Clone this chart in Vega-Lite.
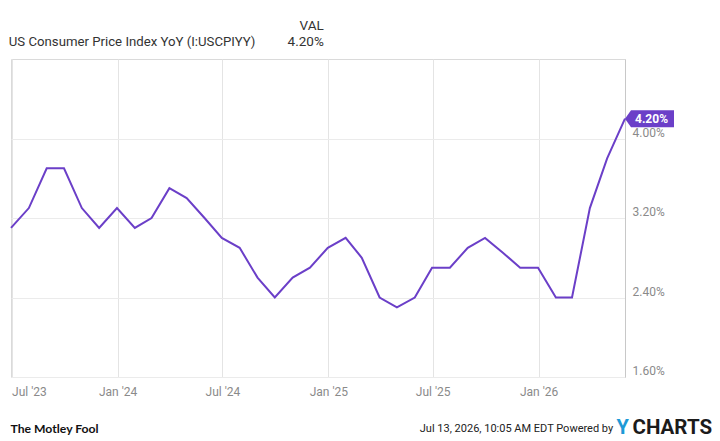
{
  "$schema": "https://vega.github.io/schema/vega-lite/v6.json",
  "width": 614,
  "height": 318,
  "autosize": {"type": "none"},
  "padding": {"left": 11, "top": 59, "right": 95, "bottom": 64},
  "background": "white",
  "config": {"font": "Roboto", "view": {"stroke": "#dadada", "strokeWidth": 1}},
  "data": {"values": [
    {"date": "2023-06-30", "value": 3.1},
    {"date": "2023-07-31", "value": 3.3},
    {"date": "2023-08-31", "value": 3.7},
    {"date": "2023-09-30", "value": 3.7},
    {"date": "2023-10-31", "value": 3.3},
    {"date": "2023-11-30", "value": 3.1},
    {"date": "2023-12-31", "value": 3.3},
    {"date": "2024-01-31", "value": 3.1},
    {"date": "2024-02-29", "value": 3.2},
    {"date": "2024-03-31", "value": 3.5},
    {"date": "2024-04-30", "value": 3.4},
    {"date": "2024-05-31", "value": 3.2},
    {"date": "2024-06-30", "value": 3.0},
    {"date": "2024-07-31", "value": 2.9},
    {"date": "2024-08-31", "value": 2.6},
    {"date": "2024-09-30", "value": 2.4},
    {"date": "2024-10-31", "value": 2.6},
    {"date": "2024-11-30", "value": 2.7},
    {"date": "2024-12-31", "value": 2.9},
    {"date": "2025-01-31", "value": 3.0},
    {"date": "2025-02-28", "value": 2.8},
    {"date": "2025-03-31", "value": 2.4},
    {"date": "2025-04-30", "value": 2.3},
    {"date": "2025-05-31", "value": 2.4},
    {"date": "2025-06-30", "value": 2.7},
    {"date": "2025-07-31", "value": 2.7},
    {"date": "2025-08-31", "value": 2.9},
    {"date": "2025-09-30", "value": 3.0},
    {"date": "2025-10-31", "value": 2.85},
    {"date": "2025-11-30", "value": 2.7},
    {"date": "2025-12-31", "value": 2.7},
    {"date": "2026-01-31", "value": 2.4},
    {"date": "2026-02-28", "value": 2.4},
    {"date": "2026-03-31", "value": 3.3},
    {"date": "2026-04-30", "value": 3.8},
    {"date": "2026-05-31", "value": 4.2}
  ]},
  "layer": [
    {
      "mark": {"type": "line", "color": "#6b3fc8", "strokeWidth": 2},
      "encoding": {
        "x": {
          "field": "date", "type": "temporal", "scale": {"type": "utc"},
          "axis": {
            "orient": "bottom",
            "values": [
              {"year": 2023, "month": 7, "date": 1, "utc": true},
              {"year": 2024, "month": 1, "date": 1, "utc": true},
              {"year": 2024, "month": 7, "date": 1, "utc": true},
              {"year": 2025, "month": 1, "date": 1, "utc": true},
              {"year": 2025, "month": 7, "date": 1, "utc": true},
              {"year": 2026, "month": 1, "date": 1, "utc": true}
            ],
            "labelExpr": "utcFormat(datum.value, \"%b '%y\")",
            "labelFlush": 5,
            "labelColor": "#8a8a8a",
            "labelFontSize": 12,
            "labelPadding": 9,
            "ticks": false,
            "tickSize": 0,
            "domain": false,
            "grid": true,
            "gridColor": "#e4e4e4",
            "title": "Jul 13, 2026, 10:05 AM EDT Powered by",
            "titleX": 601.7,
            "titleY": 54.7,
            "titleAlign": "right",
            "titleBaseline": "alphabetic",
            "titleAngle": 0,
            "titleFontSize": 11,
            "titleFontWeight": "normal",
            "titleColor": "#222222"
          }
        },
        "y": {
          "field": "value", "type": "quantitative",
          "scale": {"domain": [1.6, 4.8], "nice": false, "zero": false},
          "axis": {
            "orient": "right",
            "values": [1.6, 2.4, 3.2, 4.0],
            "labelExpr": "format(datum.value, '.2f') + '%'",
            "labelColor": "#8a8a8a",
            "labelFontSize": 12,
            "labelPadding": 7,
            "labelAlign": "left",
            "labelBaseline": "alphabetic",
            "labelOffset": -2.5,
            "ticks": false,
            "tickSize": 0,
            "domain": true,
            "domainColor": "#c8c8c8",
            "grid": true,
            "gridColor": "#ebebeb",
            "title": ["VAL", "4.20%"],
            "titleX": -301.7,
            "titleY": -30,
            "titleAlign": "right",
            "titleBaseline": "alphabetic",
            "titleAngle": 0,
            "titleLineHeight": 16,
            "titleFontSize": 13.5,
            "titleFontWeight": "normal",
            "titleColor": "#333333"
          }
        }
      }
    },
    {
      "transform": [{"filter": "datum.value >= 4.1"}],
      "mark": {
        "type": "point",
        "shape": "M0,0L0.12,-0.17L0.98,-0.17L0.98,0.17L0.12,0.17Z",
        "size": 10000,
        "filled": true,
        "color": "#6b3fc8",
        "opacity": 1
      },
      "encoding": {
        "x": {
          "field": "date", "type": "temporal", "scale": {"type": "utc"},
          "axis": {
            "orient": "bottom", "labels": false, "ticks": false, "domain": false, "grid": false,
            "title": "The Motley Fool",
            "titleX": -1, "titleY": 55, "titleAlign": "left", "titleBaseline": "alphabetic", "titleAngle": 0,
            "titleFont": "Lato", "titleFontSize": 12.2, "titleFontWeight": "bold", "titleColor": "#111111"
          }
        },
        "y": {
          "field": "value", "type": "quantitative",
          "scale": {"domain": [1.6, 4.8], "nice": false, "zero": false},
          "axis": {
            "orient": "left", "labels": false, "ticks": false, "domain": false, "grid": false,
            "title": "US Consumer Price Index YoY (I:USCPIYY)",
            "titleX": -2.7, "titleY": -14, "titleAlign": "left", "titleBaseline": "alphabetic", "titleAngle": 0,
            "titleFontSize": 13.2, "titleFontWeight": "normal", "titleColor": "#333333"
          }
        }
      }
    },
    {
      "transform": [
        {"filter": "datum.value >= 4.1"},
        {"calculate": "format(datum.value, '.2f') + '%'", "as": "label"}
      ],
      "mark": {"type": "text", "align": "left", "baseline": "middle", "dx": 10, "dy": 0.5, "color": "white", "fontWeight": "bold", "fontSize": 12},
      "encoding": {
        "text": {"field": "label"},
        "x": {
          "field": "date", "type": "temporal", "scale": {"type": "utc"},
          "axis": {
            "orient": "bottom", "labels": false, "ticks": false, "domain": false, "grid": false,
            "title": "CHARTS",
            "titleX": 621, "titleY": 56.3, "titleAlign": "left", "titleBaseline": "alphabetic", "titleAngle": 0,
            "titleFontSize": 20.5, "titleFontWeight": "bold", "titleColor": "#1b1b1b"
          }
        },
        "y": {
          "field": "value", "type": "quantitative",
          "scale": {"domain": [1.6, 4.8], "nice": false, "zero": false},
          "axis": {
            "orient": "left", "labels": false, "ticks": false, "domain": false, "grid": false,
            "title": "Y",
            "titleX": 605, "titleY": 374.3, "titleAlign": "left", "titleBaseline": "alphabetic", "titleAngle": 0,
            "titleFontSize": 20, "titleFontWeight": "bold", "titleColor": "#1d9ad6"
          }
        }
      }
    }
  ],
  "resolve": {"axis": {"x": "independent", "y": "independent"}}
}
